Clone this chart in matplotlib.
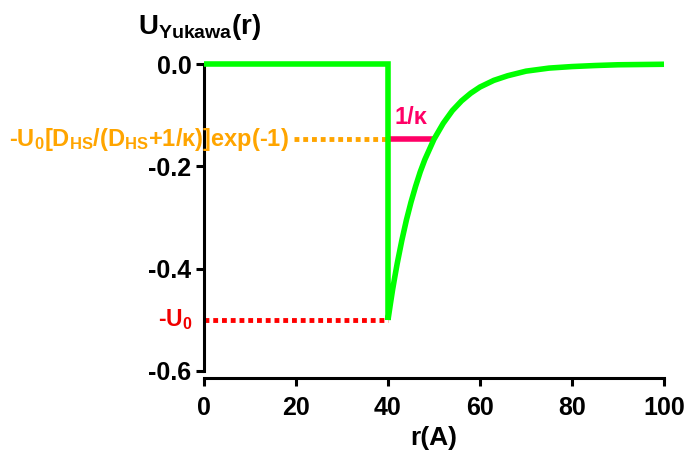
import matplotlib
matplotlib.use("Agg")
import matplotlib.pyplot as plt

# hard-sphere part and Yukawa tail
r_hs = [0, 40, 40]
u_hs = [0.0, 0.0, -0.5]
r_tail = [40, 40.5, 41, 41.5, 42, 43, 44, 45, 46, 47, 48, 50, 52, 54, 56, 58,
          60, 63, 66, 70, 75, 80, 85, 90, 95, 100]
u_tail = [-0.500, -0.470, -0.441, -0.415, -0.390, -0.345, -0.305, -0.270,
          -0.239, -0.211, -0.187, -0.147, -0.116, -0.091, -0.072, -0.057,
          -0.045, -0.032, -0.023, -0.014, -0.008, -0.005, -0.003, -0.0015,
          -0.001, -0.0005]

u0_level = -0.5
u0_line_r = [0, 40]
exp_level = -0.147
exp_line_r = [19.5, 40]
kappa_line_r = [40, 50]

x_ticks = [0, 20, 40, 60, 80, 100]
y_ticks = [0.0, -0.2, -0.4, -0.6]

plt.rcParams['font.family'] = ['Liberation Sans', 'DejaVu Sans']
plt.rcParams['font.weight'] = 'bold'
plt.rcParams['mathtext.fontset'] = 'custom'
plt.rcParams['mathtext.rm'] = 'Liberation Sans:bold'
plt.rcParams['mathtext.bf'] = 'Liberation Sans:bold'
plt.rcParams['mathtext.it'] = 'Liberation Sans:bold'
plt.rcParams['mathtext.default'] = 'bf'

green = '#00FF00'
red = '#FF0000'
orange = '#FFA500'
pink = '#FF0066'

fig = plt.figure(figsize=(6.89, 4.5), dpi=100)
ax = fig.add_axes([204 / 689, (450 - 371) / 450, 460 / 689, 307 / 450])

ax.plot(u0_line_r, [u0_level] * 2, color=red, lw=3.5, ls=(0, (1, 0.8)),
        dash_capstyle='butt', clip_on=False, zorder=2)
ax.plot(exp_line_r, [exp_level] * 2, color=orange, lw=3.5, ls=(0, (1, 0.8)),
        dash_capstyle='butt', clip_on=False, zorder=2)
ax.plot(kappa_line_r, [exp_level] * 2, color=pink, lw=4, solid_capstyle='butt',
        clip_on=False, zorder=2)

ax.plot(r_hs + r_tail[1:], u_hs + u_tail[1:], color=green, lw=4,
        solid_joinstyle='miter', solid_capstyle='butt', clip_on=False, zorder=3)

ax.set_xlim(0, 100)
ax.set_ylim(-0.6, 0.0)
ax.set_xticks(x_ticks)
ax.set_yticks(y_ticks)
ax.set_xticklabels([str(v) for v in x_ticks])
ax.set_yticklabels(['0.0', '-0.2', '-0.4', '-0.6'])

for s in ['top', 'right']:
    ax.spines[s].set_visible(False)
for s in ['left', 'bottom']:
    ax.spines[s].set_linewidth(2.2)
ax.spines['bottom'].set_position(('outward', 5))
ax.spines['bottom'].set_bounds(0, 100)
ax.spines['left'].set_bounds(-0.6, 0.0)
ax.tick_params(axis='both', direction='out', length=6, width=2.2, labelsize=18)
ax.tick_params(axis='x', pad=7)
ax.tick_params(axis='y', pad=3)
for lab in ax.get_xticklabels() + ax.get_yticklabels():
    lab.set_fontweight('bold')

ax.set_xlabel('r(A)', fontsize=19, fontweight='bold', labelpad=4)

fig.text(138 / 689, (450 - 27) / 450, r'U$_{Yukawa}$(r)', fontsize=20,
         fontweight='bold', ha='left', va='center')

ax.text(-2.5, u0_level, '-U$_0$', color='#F00000', fontsize=16.5, fontweight='bold',
        ha='right', va='center', clip_on=False)
ax.text(18.5, exp_level, '-U$_0$[D$_{HS}$/(D$_{HS}$+1/κ)]exp(-1)', color=orange,
        fontsize=17, fontweight='bold', ha='right', va='center', clip_on=False)
ax.text(45, exp_level + 0.042, '1/κ', color=pink, fontsize=17, fontweight='bold',
        ha='center', va='center')

fig.savefig('out.png', dpi=100)
